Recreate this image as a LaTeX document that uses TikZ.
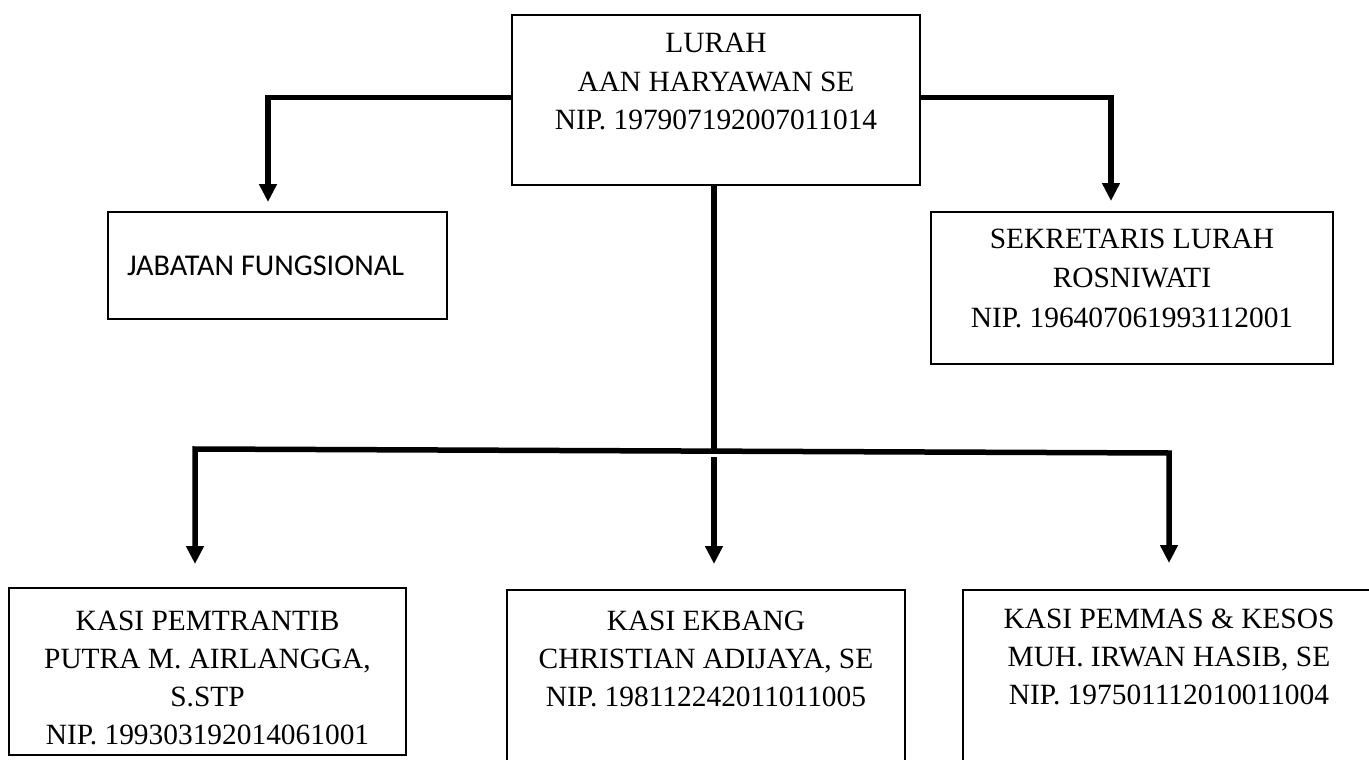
\documentclass[tikz,border=0pt]{standalone}
\usepackage{fontspec}
\setmainfont{Liberation Serif}
\newfontfamily\calibri{Carlito}
\usetikzlibrary{arrows.meta,calc}
\begin{document}
\begin{tikzpicture}[x=1pt,y=1pt,
  box/.style={draw=black, line width=1.8pt, inner sep=0pt, outer sep=0pt},
  conn/.style={line width=5.5pt, draw=black},
  tip/.style={-{Triangle[width=17pt,length=18pt]}},
  tips/.style={{Triangle[width=17pt,length=18pt]}-{Triangle[width=17pt,length=18pt]}},
]
\useasboundingbox (0,0) rectangle (1369,-760);
\clip (0,0) rectangle (1369,-760);
\fill[white] (0,0) rectangle (1369,-760);

% boxes
\node[box] (lurah) at (716,-100) {\begin{minipage}[c][170pt][t]{408pt}\centering\fontsize{29.4pt}{38.3pt}\selectfont\rule{0pt}{38pt}LURAH\\AAN HARYAWAN SE\\NIP. 197907192007011014\end{minipage}};

\node[box] (jab) at (277.5,-265.5) {\begin{minipage}[c][107pt][c]{339pt}\calibri\fontsize{30.2pt}{35pt}\selectfont\hspace*{19pt}JABATAN FUNGSIONAL\end{minipage}};

\node[box] (sek) at (1132,-288) {\begin{minipage}[c][152pt][t]{402pt}\centering\fontsize{29.4pt}{39.5pt}\selectfont\rule{0pt}{36pt}SEKRETARIS LURAH\\ROSNIWATI\\NIP. 196407061993112001\end{minipage}};

\node[box] (pem) at (207.5,-671.5) {\begin{minipage}[c][167pt][t]{397pt}\centering\fontsize{29.4pt}{38.3pt}\selectfont\rule{0pt}{42pt}KASI PEMTRANTIB\\PUTRA M. AIRLANGGA,\\S.STP\\NIP. 199303192014061001\end{minipage}};

\node[box] (ekb) at (706,-682.5) {\begin{minipage}[c][185pt][t]{398pt}\centering\fontsize{29.4pt}{38.3pt}\selectfont\rule{0pt}{40pt}KASI EKBANG\\CHRISTIAN ADIJAYA, SE\\NIP. 198112242011011005\end{minipage}};

\node[box] (mas) at (1169,-682.5) {\begin{minipage}[c][185pt][t]{412pt}\centering\fontsize{29.4pt}{38.3pt}\selectfont\rule{0pt}{38pt}KASI PEMMAS \& KESOS\\MUH. IRWAN HASIB, SE\\NIP. 197501112010011004\end{minipage}};

% connector points
\coordinate (jtip) at (268,-202);
\coordinate (stip) at (1111,-201);
\coordinate (hub) at (714,-451);
\coordinate (hl) at (195,-449);
\coordinate (hr) at (1169,-453);
\coordinate (ptip) at (195,-564);
\coordinate (etop) at (714,-457);
\coordinate (etip) at (714,-564);
\coordinate (mtip) at (1169,-563);

% connectors
\draw[conn,tip] ([yshift=2.3pt]lurah.west) -| (jtip);
\draw[conn,tip] ([yshift=2.3pt]lurah.east) -| (stip);
\draw[conn] (lurah.south -| hub) -- (hub);
\draw[conn,tips] (ptip) -- (hl) -- (hr) -- (mtip);
\draw[conn,tip] (etop) -- (etip);
\end{tikzpicture}
\end{document}
